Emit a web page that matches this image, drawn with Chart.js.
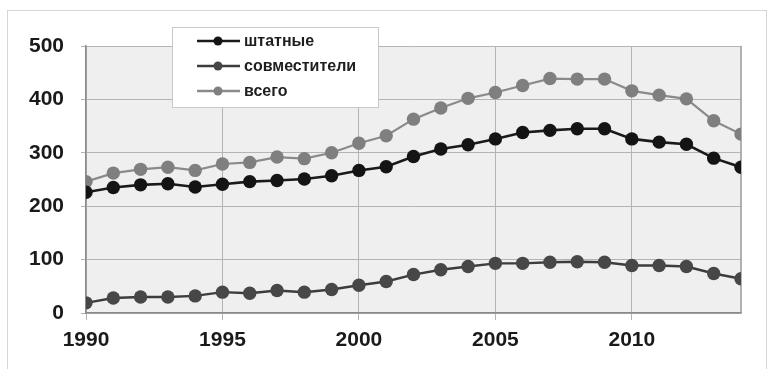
<!DOCTYPE html>
<html>
<head>
<meta charset="utf-8">
<script src="https://cdn.jsdelivr.net/npm/chart.js@4/dist/chart.umd.min.js"></script>
<style>
  html, body { margin: 0; padding: 0; background: #fff; }
  #wrap { position: relative; width: 770px; height: 369px; overflow: hidden; }
  #frame { position: absolute; left: 7px; top: 10px; width: 760px; height: 380px;
           border: 1px solid #d6d6d6; box-sizing: border-box; }
  #c { position: absolute; left: 0; top: 0; }
</style>
</head>
<body>
<div id="wrap">
  <div id="frame"></div>
  <canvas id="c" width="770" height="369"></canvas>
</div>
<script>
// Years on the horizontal axis
const years = [1990, 1991, 1992, 1993, 1994, 1995, 1996, 1997, 1998, 1999, 2000, 2001, 2002,
               2003, 2004, 2005, 2006, 2007, 2008, 2009, 2010, 2011, 2012, 2013, 2014];
// Staff counts per year
const staff =    [226, 235, 240, 242, 236, 241, 246, 248, 251, 257, 267, 274, 293,
                  307, 315, 326, 338, 342, 345, 345, 326, 320, 316, 290, 273];
const partTime = [19, 28, 30, 30, 32, 39, 37, 42, 39, 44, 52, 59, 72,
                  81, 87, 93, 93, 95, 96, 95, 89, 89, 87, 74, 64];
const total =    [246, 262, 269, 273, 267, 279, 282, 292, 289, 300, 318, 332, 363,
                  384, 402, 413, 426, 439, 438, 438, 416, 408, 401, 360, 335];
const seriesNames = ['штатные', 'совместители', 'всего'];
const yTicks = [0, 100, 200, 300, 400, 500];
const xTicks = [1990, 1995, 2000, 2005, 2010];

const toPoints = arr => years.map((yr, i) => ({ x: yr, y: arr[i] }));

const tickFont = { family: 'Liberation Sans', weight: 'bold', size: 21 };

// Grey plot background and right-hand frame of the plot area
const plotArea = {
  id: 'plotArea',
  beforeDraw(chart) {
    const { ctx, chartArea: a } = chart;
    ctx.save();
    ctx.fillStyle = '#efefef';
    ctx.fillRect(a.left, a.top, a.right - a.left, a.bottom - a.top);
    ctx.restore();
  },
  beforeDatasetsDraw(chart) {
    const { ctx, chartArea: a } = chart;
    ctx.save();
    ctx.strokeStyle = '#9a9a9a';
    ctx.lineWidth = 1.5;
    ctx.beginPath();
    ctx.moveTo(a.right, a.top);
    ctx.lineTo(a.right, a.bottom);
    ctx.stroke();
    ctx.restore();
  }
};

// Boxed legend sitting over the upper part of the plot
const boxLegend = {
  id: 'boxLegend',
  afterDraw(chart) {
    const { ctx } = chart;
    const box = { x: 172, y: 27, w: 206, h: 80 };
    ctx.save();
    ctx.fillStyle = '#ffffff';
    ctx.fillRect(box.x, box.y, box.w, box.h);
    ctx.strokeStyle = '#c8c8c8';
    ctx.lineWidth = 1;
    ctx.strokeRect(box.x + 0.5, box.y + 0.5, box.w, box.h);
    chart.data.datasets.forEach((ds, i) => {
      const cy = 41 + i * 25;
      ctx.strokeStyle = ds.borderColor;
      ctx.lineWidth = 2.5;
      ctx.beginPath();
      ctx.moveTo(197, cy);
      ctx.lineTo(240, cy);
      ctx.stroke();
      ctx.fillStyle = ds.pointBackgroundColor;
      ctx.beginPath();
      ctx.arc(218, cy, 4.5, 0, Math.PI * 2);
      ctx.fill();
      ctx.fillStyle = '#1e1e1e';
      ctx.font = 'bold 16px "Liberation Sans"';
      ctx.textBaseline = 'middle';
      ctx.fillText(ds.label, 244, cy + 1);
    });
    ctx.restore();
  }
};

const styles = [
  { line: '#1a1a1a', dot: '#141414', width: 2.6 },
  { line: '#3c3c3c', dot: '#474747', width: 2.4 },
  { line: '#8a8a8a', dot: '#7f7f7f', width: 2.2 }
];

new Chart(document.getElementById('c'), {
  type: 'line',
  data: {
    datasets: [staff, partTime, total].map((arr, i) => ({
      label: seriesNames[i],
      data: toPoints(arr),
      borderColor: styles[i].line,
      borderWidth: styles[i].width,
      pointBackgroundColor: styles[i].dot,
      pointBorderColor: styles[i].dot,
      pointBorderWidth: 0,
      pointRadius: 6.7,
      tension: 0
    }))
  },
  options: {
    responsive: false,
    devicePixelRatio: 1,
    animation: false,
    layout: { padding: { top: 46, right: 29, left: 0, bottom: 0 } },
    plugins: { legend: { display: false }, tooltip: { enabled: false } },
    scales: {
      x: {
        type: 'linear',
        min: years[0],
        max: years[years.length - 1],
        afterBuildTicks: s => { s.ticks = xTicks.map(v => ({ value: v })); },
        afterFit: s => { s.height = 56; },
        ticks: {
          callback: v => String(v),
          font: tickFont,
          color: '#1a1a1a',
          padding: 8,
          maxRotation: 0,
          autoSkip: false
        },
        grid: { color: '#b4b4b4', lineWidth: 1, tickLength: 7 },
        border: { color: '#8a8a8a', width: 1.5 }
      },
      y: {
        min: 0,
        max: 500,
        afterBuildTicks: s => { s.ticks = yTicks.map(v => ({ value: v })); },
        afterFit: s => { s.width = 86; },
        ticks: {
          font: tickFont,
          color: '#1a1a1a',
          padding: 17
        },
        grid: { color: '#b4b4b4', lineWidth: 1, tickLength: 5 },
        border: { color: '#8a8a8a', width: 1.5 }
      }
    }
  },
  plugins: [plotArea, boxLegend]
});
</script>
</body>
</html>
